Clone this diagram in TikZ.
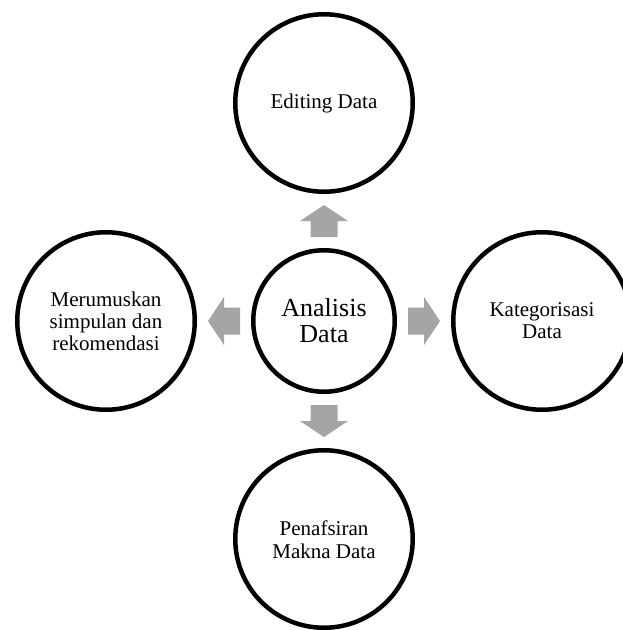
\documentclass[tikz,border=0pt]{standalone}
\usepackage{fontspec}
\setmainfont{Liberation Serif}
\usetikzlibrary{positioning, calc}
\definecolor{arrowgray}{HTML}{A5A5A5}

\tikzset{
    blockarrow/.pic = {
        \fill[arrowgray] (-16, -13.5) -- (0, -13.5) -- (0, -24) -- (16, 0)
                         -- (0, 24) -- (0, 13.5) -- (-16, 13.5) -- cycle;
    }
}

\begin{document}
\begin{tikzpicture}[x = 1pt, y = -1pt, node distance = 54pt,
        ring/.style = {circle, draw, line width = 4.5pt, inner sep = 0pt, align = center},
        hub/.style = {ring, minimum size = 141.5pt, font = \fontsize{26}{26}\selectfont},
        phase/.style = {ring, minimum size = 177.5pt, font = \fontsize{21}{22}\selectfont}]
        \useasboundingbox (0, 0) rectangle (622, 630);
        \node[hub] (ana) at (324, 321) {Analisis\\Data};
        \node[phase, above = of ana] (edit) {Editing Data};
        \node[phase, right = of ana] (kateg) {Kategorisasi\\Data};
        \node[phase, below = of ana] (tafsir) {\strut Penafsiran\\[1pt]Makna Data};
        \node[phase, left = of ana] (simpul) {Merumuskan\\simpulan dan\\rekomendasi};
        % panah abu-abu di antara lingkaran
        \foreach \target/\from/\to/\angle in {edit/north/south/90, kateg/east/west/0,
                                               tafsir/south/north/-90, simpul/west/east/180}
            \pic[rotate = \angle] at ($(ana.\from)!0.5!(\target.\to)$) {blockarrow};
    \end{tikzpicture}
\end{document}
